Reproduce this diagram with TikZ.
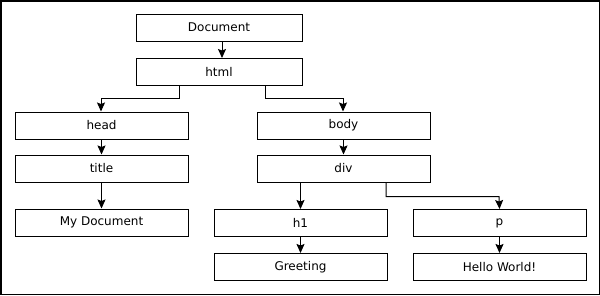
\documentclass[tikz,border=0pt]{standalone}
\usepackage{fontspec}
\setmainfont{DejaVu Sans}
\usetikzlibrary{arrows.meta}
\begin{document}
\begin{tikzpicture}[x=1pt,y=-1pt,
  box/.style={draw, line width=1pt, minimum width=173pt, minimum height=27pt, inner sep=0pt, font=\fontsize{12}{14}\selectfont},
  conn/.style={draw, line width=1pt, -{Stealth[length=9pt,width=8pt,inset=1.5pt]}}]
\useasboundingbox (0,0) rectangle (600,295);
\draw[line width=1.5pt] (0.75,0.75) rectangle (599.25,294.25);
\node[box, minimum width=166pt] (doc) at (219,27.5) {Document};
\node[box, minimum width=166pt] (html) at (219,72) {html};
\node[box] (head) at (101.5,125.5) {head};
\node[box] (body) at (343.5,125.5) {body};
\node[box] (title) at (101.5,168.5) {title};
\node[box] (div) at (343.5,168.5) {div};
\node[box] (mydoc) at (101.5,222.5) {My Document};
\node[box] (h1) at (300.5,223) {h1};
\node[box] (p) at (499.5,223) {p};
\node[box] (greet) at (300.5,267) {Greeting};
\node[box] (hello) at (499.5,267) {Hello World!};
\coordinate (htmlL) at (179,85.5);
\coordinate (htmlR) at (265,85.5);
\coordinate (divR) at (386,182);
\draw[conn] (doc.south -| 222,0) -- (html.north -| 222,0);
\draw[conn] (htmlL) |- (101,98) -- (head.north -| 101,0);
\draw[conn] (htmlR) |- (343,98) -- (body.north -| 343,0);
\draw[conn] (head) -- (title);
\draw[conn] (title) -- (mydoc);
\draw[conn] (body) -- (div);
\draw[conn] (div.south -| h1) -- (h1);
\draw[conn] (divR) |- (499,196.5) -- (p.north);
\draw[conn] (h1) -- (greet);
\draw[conn] (p) -- (hello);
\end{tikzpicture}
\end{document}
